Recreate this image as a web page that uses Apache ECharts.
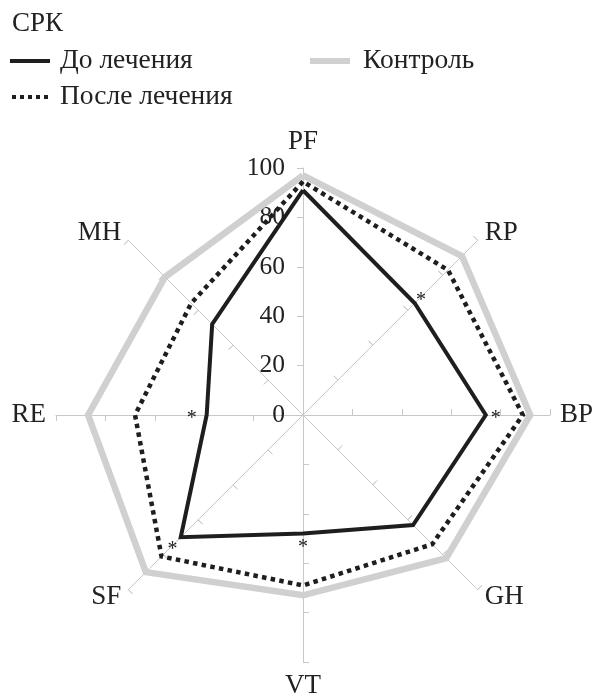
<!DOCTYPE html>
<html>
<head>
<meta charset="utf-8">
<script src="https://cdn.jsdelivr.net/npm/echarts@6/dist/echarts.min.js"></script>
<style>
html,body{margin:0;padding:0;background:#fff;}
#chart{width:596px;height:699px;}
</style>
</head>
<body>
<div id="chart"></div>
<script>
// Indicator order as ECharts lays them out (counter-clockwise from top)
const indicators = ['PF', 'MH', 'RE', 'SF', 'VT', 'GH', 'BP', 'RP'];
const seriesNames = ['До лечения', 'После лечения', 'Контроль'];
const titleText = 'СРК';
const controlValues = [97, 79, 87, 90, 73, 82, 92, 91];
const afterValues   = [94.5, 64, 68, 81, 69, 74, 89, 83];
const beforeValues  = [91, 52, 39, 70, 48, 63, 74, 64];
// positions of the significance marks "*" (0 = no mark)
const markValues    = [0, 0, 45, 74.7, 52.3, 0, 78, 67.6];
const axisMax = 100;
const axisStep = 20;

const FONT = '"Liberation Serif", "Times New Roman", serif';
const TXT = '#222';
const BLACK = '#1e1e1e';
const GRAY = '#d0d0d0';
const AXIS = '#c8c8c8';

const chart = echarts.init(document.getElementById('chart'), null, {renderer: 'canvas'});

function makeIndicators(withLabel) {
  return indicators.map((n, i) => ({
    name: n, min: 0, max: axisMax,
    axisLabel: {show: withLabel && i === 0}
  }));
}

const dotIcon = 'path://M0,0h4v4h-4z M8,0h4v4h-4z M16,0h4v4h-4z M24,0h4v4h-4z M32,0h4v4h-4z';

const option = {
  animation: false,
  backgroundColor: '#fff',
  title: {
    text: titleText, left: 12, top: 10, padding: 0,
    textStyle: {fontFamily: FONT, fontSize: 27, fontWeight: 'normal', color: TXT, lineHeight: 27}
  },
  legend: [
    {
      orient: 'vertical', left: 10, top: 47, padding: 0, itemGap: 8,
      itemWidth: 40, itemHeight: 4, selectedMode: false,
      itemStyle: {borderWidth: 0},
      textStyle: {fontFamily: FONT, fontSize: 27.5, color: TXT, lineHeight: 27, padding: [0, 0, 0, 5]},
      data: [
        {name: seriesNames[0], icon: 'rect', itemStyle: {color: BLACK, borderWidth: 0}},
        {name: seriesNames[1], icon: dotIcon, itemStyle: {color: BLACK, borderWidth: 0}}
      ]
    },
    {
      orient: 'vertical', left: 310, top: 47, padding: 0,
      itemWidth: 40, itemHeight: 6, selectedMode: false,
      itemStyle: {borderWidth: 0},
      textStyle: {fontFamily: FONT, fontSize: 27.5, color: TXT, lineHeight: 27, padding: [0, 0, 0, 8]},
      data: [
        {name: seriesNames[2], icon: 'rect', itemStyle: {color: GRAY, borderWidth: 0}}
      ]
    }
  ],
  radar: [
    {
      center: [303, 415], radius: 247, startAngle: 90, shape: 'polygon',
      splitNumber: axisMax / axisStep,
      indicator: makeIndicators(true),
      nameGap: 10,
      axisName: {fontFamily: FONT, fontSize: 27, color: TXT},
      axisLine: {show: true, lineStyle: {color: AXIS, width: 1}},
      axisTick: {show: true, length: 6, lineStyle: {color: AXIS, width: 1}},
      axisLabel: {show: false, fontFamily: FONT, fontSize: 25.5, color: TXT, margin: 18},
      splitLine: {show: false},
      splitArea: {show: false}
    },
    {
      center: [303, 415], radius: 247, startAngle: 90, shape: 'polygon',
      splitNumber: axisMax / axisStep,
      indicator: makeIndicators(false),
      axisName: {show: false},
      axisLine: {show: false},
      axisTick: {show: true, inside: true, length: 6, lineStyle: {color: AXIS, width: 1}},
      axisLabel: {show: false},
      splitLine: {show: false},
      splitArea: {show: false}
    }
  ],
  series: [
    {
      type: 'radar', radarIndex: 0, name: seriesNames[2], symbol: 'none', z: 3,
      lineStyle: {color: GRAY, width: 6.5, join: 'miter'},
      itemStyle: {color: GRAY},
      data: [{value: controlValues, name: seriesNames[2]}]
    },
    {
      type: 'radar', radarIndex: 0, name: seriesNames[1], symbol: 'none', z: 4,
      lineStyle: {color: BLACK, width: 4.5, type: [4.5, 4.3], cap: 'butt', join: 'miter'},
      itemStyle: {color: BLACK},
      data: [{value: afterValues, name: seriesNames[1]}]
    },
    {
      type: 'radar', radarIndex: 0, name: seriesNames[0], symbol: 'none', z: 5,
      lineStyle: {color: BLACK, width: 4, join: 'miter'},
      itemStyle: {color: BLACK},
      data: [{value: beforeValues, name: seriesNames[0]}]
    },
    {
      type: 'radar', radarIndex: 0, name: 'marks', symbol: 'circle', symbolSize: 1, z: 6,
      silent: true,
      lineStyle: {opacity: 0, width: 0},
      itemStyle: {color: 'rgba(0,0,0,0)'},
      label: {
        show: true, position: 'inside', offset: [0, 4],
        fontFamily: FONT, fontSize: 20, color: TXT,
        formatter: p => (typeof p.value === 'number' && p.value > 0) ? '*' : ''
      },
      data: [{value: markValues, name: 'marks'}]
    }
  ]
};
chart.setOption(option);
</script>
</body>
</html>
